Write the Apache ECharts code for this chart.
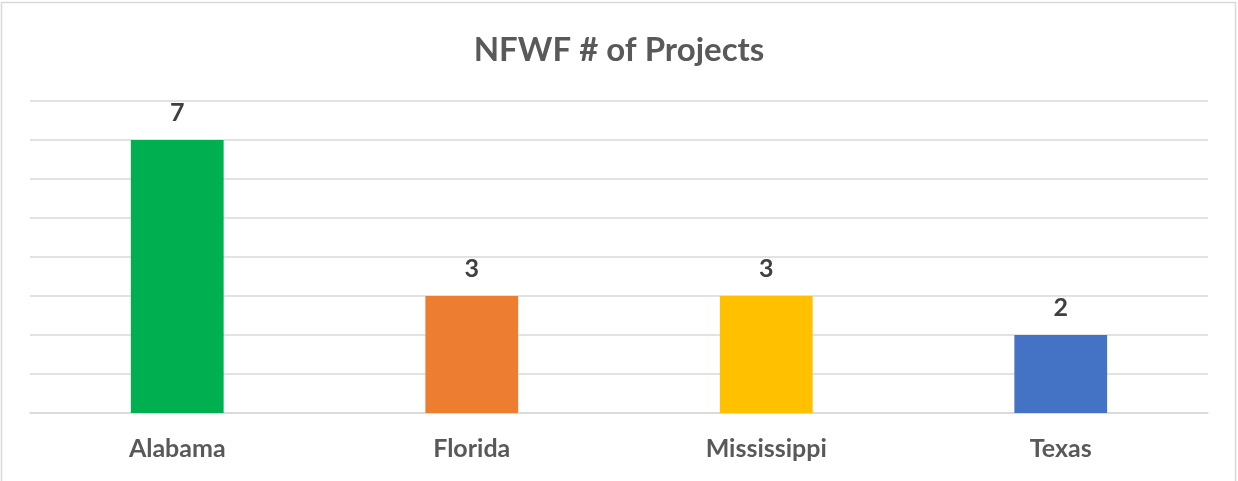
<!DOCTYPE html>
<html>
<head>
<meta charset="utf-8">
<script src="https://cdn.jsdelivr.net/npm/echarts@6/dist/echarts.min.js"></script>
<style>html,body{margin:0;padding:0;background:#fff}#c{width:1238px;height:481px}</style>
</head>
<body>
<div id="c"></div>
<script>
const titleText = "NFWF # of Projects";
const categories = ["Alabama", "Florida", "Mississippi", "Texas"];
const values = [7, 3, 3, 2];
const colors = ["#00B050", "#ED7D31", "#FFC000", "#4472C4"];

const chart = echarts.init(document.getElementById('c'));
chart.setOption({
  animation: false,
  backgroundColor: '#fff',
  graphic: [{
    type: 'rect', shape: {x: 1.5, y: 2.5, width: 1234, height: 480},
    style: {fill: 'none', stroke: '#d9d9d9', lineWidth: 1.5}, silent: true
  }],
  title: {
    text: titleText, left: 'center', top: 29,
    textStyle: {fontFamily: 'Lato', fontWeight: 'bold', fontSize: 33, color: '#595959'}
  },
  grid: {left: 30, right: 30, top: 101, bottom: 68},
  xAxis: {
    type: 'category', data: categories,
    axisLine: {lineStyle: {color: '#d9d9d9', width: 1.5}},
    axisTick: {show: false},
    axisLabel: {margin: 23, fontFamily: 'Lato', fontWeight: 'bold', fontSize: 25, color: '#595959'}
  },
  yAxis: {
    type: 'value', min: 0, max: 8, interval: 1,
    axisLabel: {show: false}, axisLine: {show: false}, axisTick: {show: false},
    splitLine: {lineStyle: {color: '#d9d9d9', width: 1.5}}
  },
  series: [{
    type: 'bar', barWidth: '31.5%',
    data: values.map((v, i) => ({value: v, itemStyle: {color: colors[i]}})),
    label: {show: true, position: 'top', distance: 15, fontFamily: 'Lato', fontWeight: 'bold', fontSize: 25, color: '#404040'}
  }]
});
</script>
</body>
</html>
